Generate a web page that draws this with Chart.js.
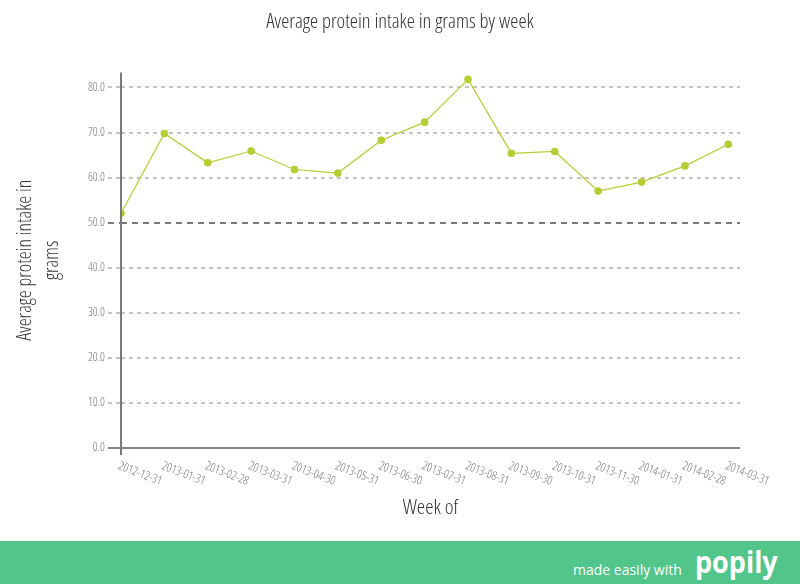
<!DOCTYPE html>
<html>
<head>
<meta charset="utf-8">
<title>Average protein intake in grams by week</title>
<script src="https://cdn.jsdelivr.net/npm/chart.js@4.4.1/dist/chart.umd.min.js"></script>
<style>
  html, body { margin: 0; padding: 0; background: #fff; }
  #wrap { width: 800px; height: 541px; position: relative; }
  #footer {
    width: 800px; height: 43px; background: #52c58a; position: relative; overflow: hidden;
    font-family: 'Open Sans', sans-serif; color: #fff;
  }
  #footer .made { position: absolute; left: 573px; top: 19px; font-size: 14px; line-height: normal; }
  #footer .logo { position: absolute; left: 695px; top: 0px; font-size: 30px; line-height: normal; font-weight: 700; transform: scaleX(0.9); transform-origin: left; }
</style>
</head>
<body>
<div id="wrap"><canvas id="proteinChart" width="800" height="541"></canvas></div>
<div id="footer"><span class="made">made easily with</span><span class="logo">popily</span></div>

<script>
// dados
const weeks = ['2012-12-31', '2013-01-31', '2013-02-28', '2013-03-31', '2013-04-30', '2013-05-31', '2013-06-30',
  '2013-07-31', '2013-08-31', '2013-09-30', '2013-10-31', '2013-11-30', '2014-01-31', '2014-02-28', '2014-03-31'];
const proteinGrams = [52.1, 69.8, 63.3, 65.9, 61.8, 61.0, 68.3, 72.3, 81.8, 65.4, 65.8, 57.0, 59.0, 62.6, 67.4];
const yTicks = [0, 10, 20, 30, 40, 50, 60, 70, 80];

const FONT = "'Open Sans', sans-serif";
const LIGHT = '300 condensed';   // Open Sans Condensed Light
const LINE_GREEN = '#b6cd32';

const dashFor = (v) => v === 0 ? [] : (v === 50 ? [6, 5] : [4, 4]);
const colorFor = (v) => v === 0 ? '#858585' : (v === 50 ? '#7a7a7a' : '#c4c4c4');

// eixo y desenhado a mão + rótulos do eixo x inclinados
const axisPlugin = {
  id: 'axisPlugin',
  afterDraw(chart) {
    const { ctx, chartArea } = chart;
    const xs = chart.scales.x;
    const x0 = xs.getPixelForValue(0);
    ctx.save();
    ctx.strokeStyle = '#7a7a7a';
    ctx.lineWidth = 2;
    ctx.beginPath();
    ctx.moveTo(x0, chartArea.top);
    ctx.lineTo(x0, chartArea.bottom + 7);
    ctx.stroke();

    ctx.fillStyle = '#777';
    ctx.font = LIGHT + ' 12px ' + FONT;
    ctx.textAlign = 'left';
    ctx.textBaseline = 'top';
    weeks.forEach((w, i) => {
      const px = xs.getPixelForValue(i);
      ctx.save();
      ctx.translate(px, chartArea.bottom + 12);
      ctx.rotate(21 * Math.PI / 180);
      ctx.fillText(w, 0, 0);
      ctx.restore();
    });
    ctx.restore();
  }
};

function initChart() {
  const ctx = document.getElementById('proteinChart');

  new Chart(ctx, {
    type: 'line',
    data: {
      datasets: [{
        label: 'Average protein intake',
        data: proteinGrams.map((v, i) => ({ x: i, y: v })),
        borderColor: LINE_GREEN,
        backgroundColor: LINE_GREEN,
        borderWidth: 1.2,
        pointRadius: 3.2,
        pointHoverRadius: 3.2,
        tension: 0
      }]
    },
    options: {
      responsive: false,
      animation: false,
      layout: { padding: 0 },
      plugins: {
        legend: { display: false },
        tooltip: { enabled: false },
        title: {
          display: true,
          text: 'Average protein intake in grams by week',
          color: '#333',
          font: { family: FONT, size: 20.5, weight: LIGHT, lineHeight: 1.2 },
          padding: { top: 10, bottom: 38 }
        }
      },
      scales: {
        x: {
          type: 'linear',
          min: 0,
          max: 14.27,
          ticks: { display: false },
          grid: { display: false },
          border: { display: false },
          afterFit: (scale) => { scale.height = 93; },
          title: {
            display: true,
            text: 'Week of',
            color: '#333',
            font: { family: FONT, size: 21, weight: LIGHT, lineHeight: 1.2 },
            padding: { top: 0, bottom: 20 }
          }
        },
        y: {
          min: 0,
          max: 83.3,
          afterBuildTicks: (scale) => { scale.ticks = yTicks.map(v => ({ value: v })); },
          afterFit: (scale) => { scale.width = 121; },
          ticks: {
            color: '#777',
            padding: 3,
            font: { family: FONT, size: 12, weight: LIGHT },
            callback: (v) => Number(v).toFixed(1)
          },
          grid: {
            tickLength: 13,
            lineWidth: 2,
            color: (c) => colorFor(c.tick.value),
            tickColor: (c) => colorFor(c.tick.value),
            tickBorderDash: (c) => dashFor(c.tick.value)
          },
          border: {
            display: false,
            dash: (c) => dashFor(c.tick.value)
          },
          title: {
            display: true,
            text: ['Average protein intake in', 'grams'],
            color: '#333',
            font: { family: FONT, size: 20, weight: LIGHT, lineHeight: 1.35 },
            padding: { top: 12, bottom: 0 }
          }
        },
        // eixo vazio à direita, só para reservar a margem
        spacer: {
          type: 'linear',
          position: 'right',
          ticks: { display: false },
          grid: { display: false, drawOnChartArea: false },
          border: { display: false },
          afterFit: (scale) => { scale.width = 60; }
        }
      }
    },
    plugins: [axisPlugin]
  });
}

initChart();
</script>
</body>
</html>
